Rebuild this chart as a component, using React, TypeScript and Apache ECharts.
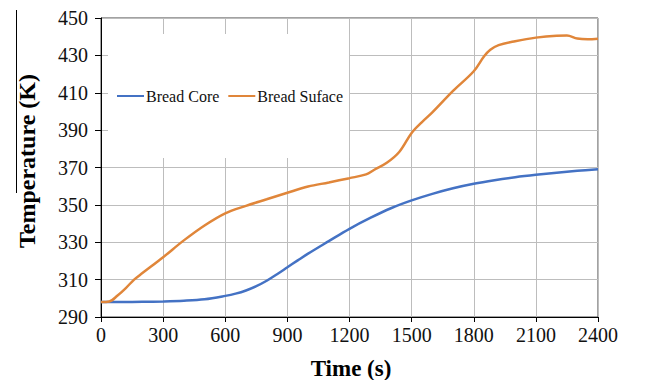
import React, { useEffect, useRef } from "react";
import * as echarts from "echarts";

const coreTimes = [0, 100, 200, 300, 400, 500, 600, 650, 700, 750, 800, 850, 900, 950, 1000, 1100, 1200, 1300, 1400, 1500, 1600, 1700, 1800, 1900, 2000, 2100, 2200, 2300, 2400];
const coreTemps = [298, 298, 298.1, 298.3, 298.7, 299.5, 301.3, 302.5, 304.2, 306.5, 309.4, 312.9, 316.6, 320.3, 323.9, 330.6, 337.2, 343, 348.2, 352.4, 355.9, 358.9, 361.3, 363.2, 364.8, 366.1, 367.2, 368.2, 369];

const surfTimes = [0, 40, 80, 120, 160, 200, 300, 400, 500, 600, 700, 800, 900, 1000, 1100, 1200, 1280, 1320, 1380, 1440, 1500, 1550, 1600, 1700, 1800, 1850, 1880, 1920, 2000, 2100, 2200, 2250, 2300, 2350, 2400];
const surfTemps = [298, 298.3, 301.5, 305.5, 310, 313.5, 322, 331, 339, 345.5, 349.5, 353, 356.5, 359.8, 362, 364.3, 366.3, 368.8, 372.5, 378.3, 388.5, 394.3, 399.5, 411, 421.5, 429.5, 433, 435.5, 437.6, 439.5, 440.5, 440.6, 439, 438.6, 438.9];

const seriesNames = ["Bread Core", "Bread Suface"];
const xTitle = "Time (s)";
const yTitle = "Temperature (K)";

const FONT = "Liberation Serif";

export default function App() {
  const ref = useRef<HTMLDivElement>(null);
  useEffect(() => {
    if (!ref.current) return;
    const chart = echarts.init(ref.current, null, { renderer: "svg" });
    const core = coreTimes.map((t, i) => [t, coreTemps[i]]);
    const surf = surfTimes.map((t, i) => [t, surfTemps[i]]);
    chart.setOption({
      animation: false,
      backgroundColor: "#fff",
      textStyle: { fontFamily: FONT },
      grid: { left: 93, right: 50, top: 10, bottom: 63, show: true, borderColor: "#444", borderWidth: 1, containLabel: false },
      legend: {
        left: 100,
        top: 26,
        padding: [54, 6, 54, 9],
        backgroundColor: "#fff",
        icon: "rect",
        itemWidth: 27,
        itemHeight: 2,
        itemGap: 9,
        textStyle: { fontFamily: FONT, fontSize: 16, color: "#111", padding: [0, 0, 0, -3] },
        data: seriesNames,
      },
      xAxis: {
        type: "value",
        min: 0,
        max: 2400,
        interval: 300,
        axisLine: { show: true, lineStyle: { color: "#000", width: 1 } },
        axisTick: { show: true, inside: false, length: 5, lineStyle: { color: "#000" } },
        axisLabel: { fontFamily: FONT, fontSize: 20, color: "#111", margin: 8, formatter: (v: number) => String(v) },
        splitLine: { show: true, lineStyle: { color: "#bdbdbd", width: 1 } },
      },
      yAxis: {
        type: "value",
        min: 290,
        max: 450,
        interval: 20,
        axisLine: { show: true, lineStyle: { color: "#000", width: 1 } },
        axisTick: { show: true, inside: false, length: 6, lineStyle: { color: "#000" } },
        axisLabel: { fontFamily: FONT, fontSize: 20, color: "#111", margin: 13, formatter: (v: number) => String(v) },
        splitLine: { show: true, lineStyle: { color: "#bdbdbd", width: 1 } },
      },
      graphic: [
        {
          type: "text",
          x: 19,
          y: 153,
          rotation: Math.PI / 2,
          style: {
            text: yTitle,
            fontFamily: FONT,
            fontSize: 24,
            fontWeight: "bold",
            fill: "#000",
            textAlign: "center",
            textVerticalAlign: "middle",
          },
        },
        {
          type: "line",
          shape: { x1: 8.5, y1: 2, x2: 8.5, y2: 185 },
          style: { stroke: "#000", lineWidth: 1 },
        },
        {
          type: "text",
          x: 343,
          y: 360,
          style: {
            text: xTitle,
            fontFamily: FONT,
            fontSize: 23,
            fontWeight: "bold",
            fill: "#000",
            textAlign: "center",
            textVerticalAlign: "middle",
          },
        },
      ],
      series: [
        {
          name: seriesNames[0],
          type: "line",
          data: core,
          symbol: "none",
          smooth: 0.35,
          lineStyle: { color: "#4472C4", width: 2.5 },
          itemStyle: { color: "#4472C4" },
          z: 3,
        },
        {
          name: seriesNames[1],
          type: "line",
          data: surf,
          symbol: "none",
          smooth: 0.35,
          lineStyle: { color: "#E0863A", width: 2.5 },
          itemStyle: { color: "#E0863A" },
          z: 3,
        },
      ],
    });
    return () => chart.dispose();
  }, []);
  return <div ref={ref} style={{ width: 640, height: 372 }} />;
}
